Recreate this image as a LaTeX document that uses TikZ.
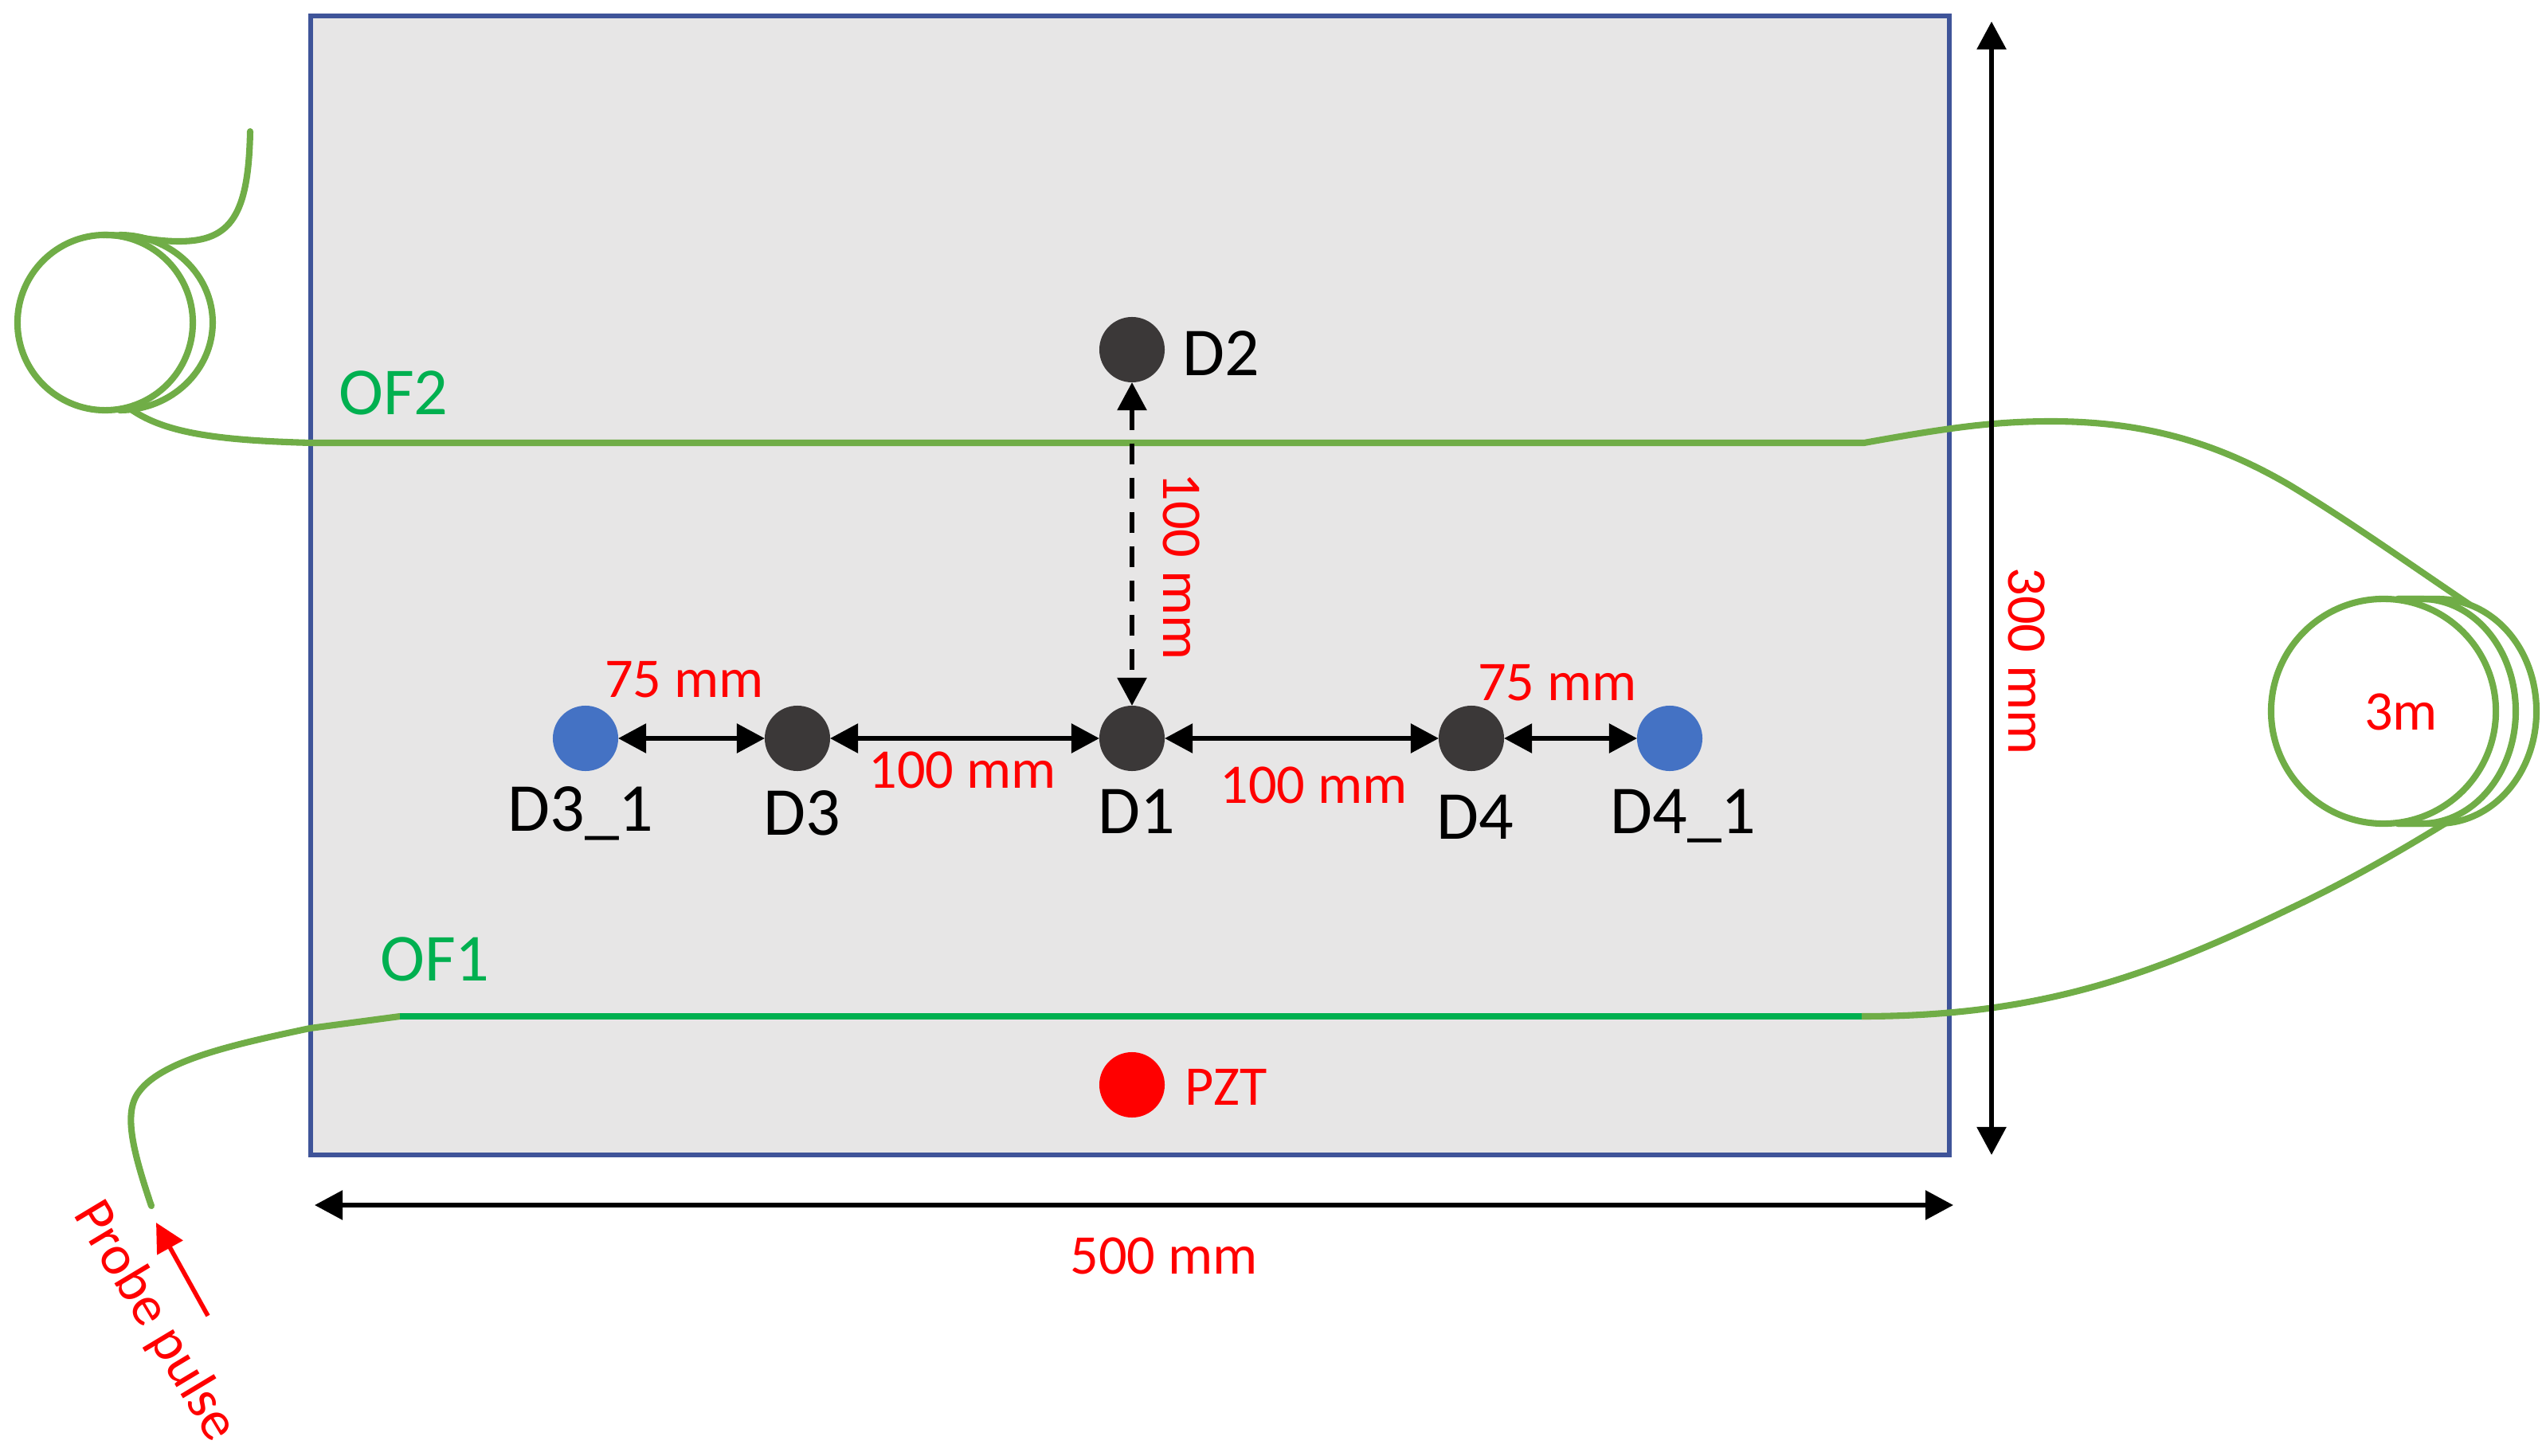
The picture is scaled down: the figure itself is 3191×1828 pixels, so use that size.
\documentclass[tikz,border=0pt]{standalone}
\usepackage{fontspec}
\setmainfont{Carlito}
\usetikzlibrary{arrows.meta}
\definecolor{platefill}{HTML}{E7E6E6}
\definecolor{plateedge}{HTML}{3F5499}
\definecolor{fibergreen}{HTML}{70AD47}
\definecolor{ofgreen}{HTML}{00B050}
\definecolor{sensordark}{HTML}{3B3838}
\definecolor{sensorblue}{HTML}{4472C4}
\tikzset{
  fiber/.style={draw=fibergreen, line width=2.3pt, line cap=round},
  coil/.style={circle, fiber, inner sep=0pt, outer sep=0pt},
  sensor/.style={circle, inner sep=0pt, outer sep=0pt, minimum size=0.82cm},
  dist/.style={line width=1.6pt, {Triangle[length=0.35cm,width=0.36cm]}-{Triangle[length=0.35cm,width=0.36cm]}},
  redlabel/.style={red, anchor=base, inner sep=0pt, font=\fontsize{20}{24}\selectfont},
  blacklabel/.style={black, anchor=base, inner sep=0pt, font=\fontsize{24.5}{29}\selectfont},
  oflabel/.style={ofgreen, anchor=base, inner sep=0pt, font=\fontsize{24}{29}\selectfont}
}
\begin{document}
\begin{tikzpicture}[x=0.01cm, y=-0.01cm]
    \useasboundingbox (0,0) rectangle (3191,1828);
    \draw[draw=plateedge, fill=platefill, line width=1.8pt] (390,20) rectangle (2447,1450);

    \node [coil, minimum size=2.2cm] (coilL) at (132,405) {};
    \node [coil, minimum size=2.82cm] (coilR) at (2992,893) {};
    \draw[fiber] (130,295) .. controls (170,295) and (190,303) .. (225,303) .. controls (290,303) and (312,270) .. (314,165);
    \draw[fiber] (150,295) .. controls (215,295) and (267,345) .. (267,405) .. controls (267,465) and (215,515) .. (150,515);
    \draw[fiber] (166,515) .. controls (210,545) and (280,553) .. (390,556) -- (2340,556) .. controls (2440,538) and (2500,529) .. (2575,529) .. controls (2700,529) and (2790,560) .. (2874,609) .. controls (2950,655) and (3020,705) .. (3100,759);
    \draw[fiber] (3010,752) -- (3040,752) .. controls (3105,752) and (3158,815) .. (3158,893) .. controls (3158,970) and (3105,1034) .. (3040,1034) -- (3010,1034);
    \draw[fiber] (3010,752) -- (3060,752) .. controls (3130,752) and (3184,815) .. (3184,893) .. controls (3184,970) and (3130,1034) .. (3060,1034) -- (3010,1034);
    \draw[fiber] (3069,1034) .. controls (3010,1070) and (2950,1105) .. (2874,1141) .. controls (2700,1225) and (2560,1276) .. (2337,1276);
    \draw[fiber] (190,1514) .. controls (165,1440) and (155,1395) .. (175,1370) .. controls (205,1330) and (300,1310) .. (389,1291) -- (502,1276);
    \draw[ofgreen, line width=2.3pt] (502,1276) -- (2337,1276);

    \node [sensor, fill=sensordark] (D2) at (1421,439) {};
    \node [sensor, fill=sensordark] (D1) at (1421,927) {};
    \node [sensor, fill=sensordark] (D3) at (1001,927) {};
    \node [sensor, fill=sensorblue] (D31) at (735,927) {};
    \node [sensor, fill=sensordark] (D4) at (1847,927) {};
    \node [sensor, fill=sensorblue] (D41) at (2096,927) {};
    \node [sensor, fill=red] (PZT) at (1421,1362) {};

    \draw[dist] (D31) -- (D3);
    \draw[dist] (D3) -- (D1);
    \draw[dist] (D1) -- (D4);
    \draw[dist] (D4) -- (D41);
    \draw[dist, dash pattern=on 0.26cm off 0.17cm] (D2) -- (D1);

    \coordinate (widthL) at (395,1513);
    \coordinate (widthR) at (2452,1513);
    \coordinate (heightT) at (2500,27);
    \coordinate (heightB) at (2500,1450);
    \draw[dist] (widthL) -- (widthR);
    \draw[dist] (heightT) -- (heightB);

    \coordinate (pulseS) at (261,1652);
    \coordinate (pulseE) at (196,1535);
    \draw[red, line width=1.6pt, -{Triangle[length=0.36cm,width=0.36cm]}] (pulseS) -- (pulseE);

    \node [blacklabel] (lblD2) at (1533,472) {D2};
    \node [blacklabel] (lblD1) at (1427,1046) {D1};
    \node [blacklabel] (lblD3) at (1007,1048) {D3};
    \node [blacklabel] (lblD31) at (729,1043) {D3\_1};
    \node [blacklabel] (lblD4) at (1852,1053) {D4};
    \node [blacklabel] (lblD41) at (2113,1046) {D4\_1};
    \node [redlabel] (lblPZT) at (1539,1387) {PZT};
    \node [redlabel] (lblA) at (859,875) {75 mm};
    \node [redlabel] (lblB) at (1208,989) {100 mm};
    \node [redlabel] (lblC) at (1649,1008) {100 mm};
    \node [redlabel] (lblD) at (1955,879) {75 mm};
    \node [redlabel, rotate=-90] (lblE) at (1460,711) {100 mm};
    \node [redlabel] (lblW) at (1461,1599) {500 mm};
    \node [redlabel, rotate=-90] (lblH) at (2521,830) {300 mm};
    \node [redlabel] (lbl3m) at (3014,916) {3m};
    \node [redlabel, rotate=-59] (lblP) at (178,1669) {Probe pulse};
    \node [oflabel] (lblOF2) at (494,521) {OF2};
    \node [oflabel] (lblOF1) at (546,1231) {OF1};
\end{tikzpicture}
\end{document}
